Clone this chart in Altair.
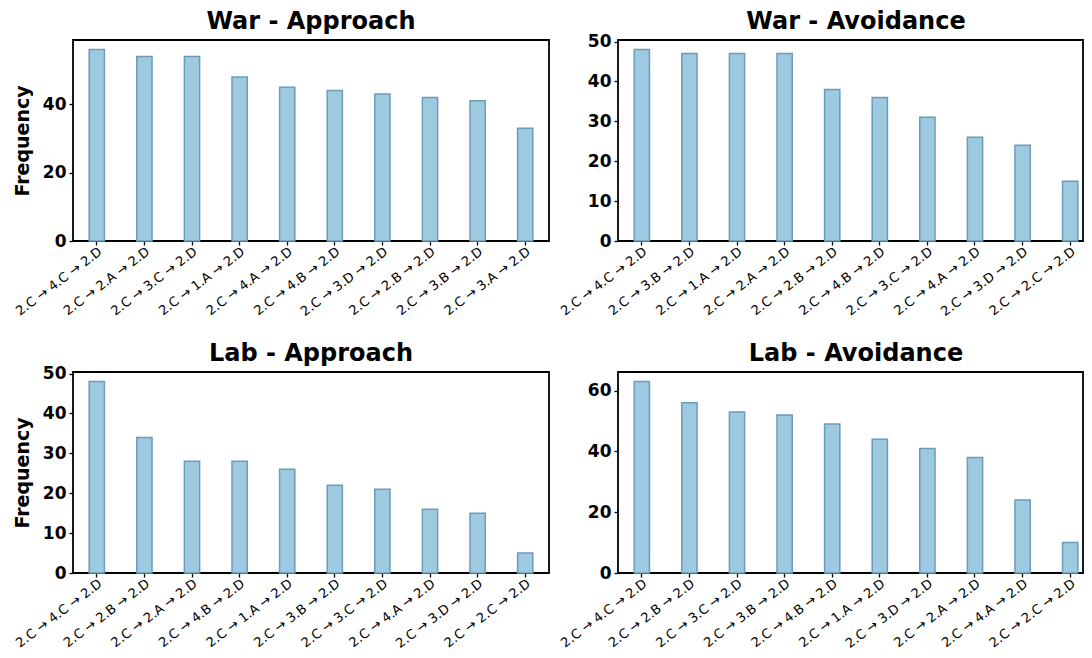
import altair as alt
import pandas as pd

# ---- data ----
war_app_labels = ["2.C → 4.C → 2.D", "2.C → 2.A → 2.D", "2.C → 3.C → 2.D", "2.C → 1.A → 2.D",
                  "2.C → 4.A → 2.D", "2.C → 4.B → 2.D", "2.C → 3.D → 2.D", "2.C → 2.B → 2.D",
                  "2.C → 3.B → 2.D", "2.C → 3.A → 2.D"]
war_app_values = [56, 54, 54, 48, 45, 44, 43, 42, 41, 33]

war_avo_labels = ["2.C → 4.C → 2.D", "2.C → 3.B → 2.D", "2.C → 1.A → 2.D", "2.C → 2.A → 2.D",
                  "2.C → 2.B → 2.D", "2.C → 4.B → 2.D", "2.C → 3.C → 2.D", "2.C → 4.A → 2.D",
                  "2.C → 3.D → 2.D", "2.C → 2.C → 2.D"]
war_avo_values = [48, 47, 47, 47, 38, 36, 31, 26, 24, 15]

lab_app_labels = ["2.C → 4.C → 2.D", "2.C → 2.B → 2.D", "2.C → 2.A → 2.D", "2.C → 4.B → 2.D",
                  "2.C → 1.A → 2.D", "2.C → 3.B → 2.D", "2.C → 3.C → 2.D", "2.C → 4.A → 2.D",
                  "2.C → 3.D → 2.D", "2.C → 2.C → 2.D"]
lab_app_values = [48, 34, 28, 28, 26, 22, 21, 16, 15, 5]

lab_avo_labels = ["2.C → 4.C → 2.D", "2.C → 2.B → 2.D", "2.C → 3.C → 2.D", "2.C → 3.B → 2.D",
                  "2.C → 4.B → 2.D", "2.C → 1.A → 2.D", "2.C → 3.D → 2.D", "2.C → 2.A → 2.D",
                  "2.C → 4.A → 2.D", "2.C → 2.C → 2.D"]
lab_avo_values = [63, 56, 53, 52, 49, 44, 41, 38, 24, 10]

titles = ["War - Approach", "War - Avoidance", "Lab - Approach", "Lab - Avoidance"]
y_ticks = [[0, 20, 40], [0, 10, 20, 30, 40, 50], [0, 10, 20, 30, 40, 50], [0, 20, 40, 60]]

FONT = "DejaVu Sans"
FILL = "#9ecae1"
STROKE = "#6b9cb8"

LEFT_W = 476
RIGHT_W = 465  # right panels run to the page edge (clipped in the reference)


def panel(labels, values, title, ticks, left, title_offset):
    df = pd.DataFrame({"path": labels, "freq": values})
    ymax = max(values) * 1.05
    if left:
        xscale = alt.Scale(paddingInner=0.68, paddingOuter=0.34)
        width = LEFT_W
        tdx = 0
    else:
        xscale = alt.Scale(paddingInner=0.68, paddingOuter=0.225, align=0.757)
        width = RIGHT_W
        tdx = 5.5
    return (
        alt.Chart(df)
        .mark_bar(fill=FILL, stroke=STROKE, strokeWidth=1.5)
        .encode(
            x=alt.X("path:N", sort=labels, title=None, scale=xscale,
                    axis=alt.Axis(labelAngle=323, labelAlign="right", labelBaseline="top",
                                  labelFontSize=13, labelFont=FONT, labelColor="black",
                                  tickColor="black", tickSize=4, tickWidth=1.3,
                                  domain=False, labelPadding=0)),
            y=alt.Y("freq:Q", title="Frequency" if left else None,
                    scale=alt.Scale(domain=[0, ymax], nice=False, zero=True),
                    axis=alt.Axis(values=ticks, labelFontSize=17, labelFontWeight="bold",
                                  labelFont=FONT, labelColor="black", tickColor="black",
                                  tickSize=4, tickWidth=1.3, domain=False, grid=False,
                                  labelPadding=3,
                                  titleFontSize=19, titleFontWeight="bold", titleFont=FONT,
                                  titleColor="black", titlePadding=10)),
        )
        .properties(width=width, height=201,
                    title=alt.TitleParams(title, fontSize=24, fontWeight="bold", font=FONT,
                                          color="black", offset=title_offset, dx=tdx))
    )


c1 = panel(war_app_labels, war_app_values, titles[0], y_ticks[0], True, 6)
c2 = panel(war_avo_labels, war_avo_values, titles[1], y_ticks[1], False, -1)
c3 = panel(lab_app_labels, lab_app_values, titles[2], y_ticks[2], True, -1)
c4 = panel(lab_avo_labels, lab_avo_values, titles[3], y_ticks[3], False, 6)

chart = (
    alt.concat(c1, c2, c3, c4, columns=2, spacing={"row": 131, "column": 69}, bounds="flush")
    .properties(padding={"left": 4, "top": 0, "right": 0, "bottom": 0}, background="white")
    .configure_view(stroke="black", strokeWidth=1.8)
    .configure_axis(grid=False)
)

chart.save("out.html", embed_options={"renderer": "svg", "actions": False})
